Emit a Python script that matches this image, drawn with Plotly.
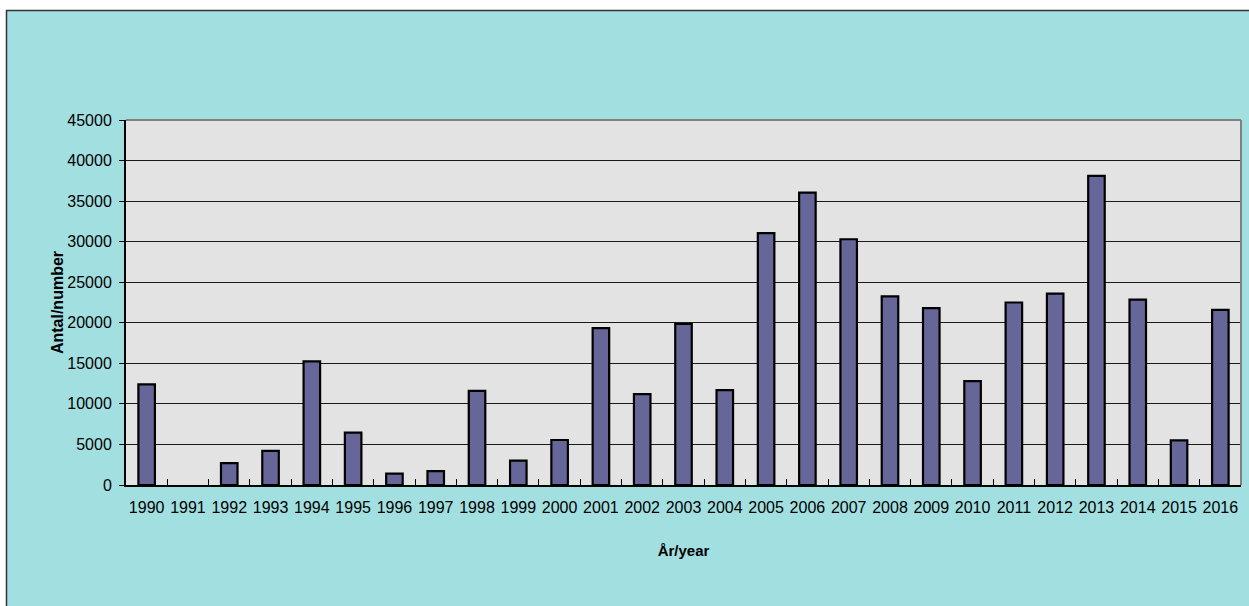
import plotly.graph_objects as go

years = [str(y) for y in range(1990, 2017)]
counts = [12400, 0, 2700, 4200, 15250, 6450, 1400, 1700, 11600, 3000,
          5550, 19350, 11200, 19850, 11700, 31050, 36050, 30300, 23250, 21800,
          12800, 22500, 23600, 38100, 22850, 5500, 21600]
y_ticks = list(range(0, 45001, 5000))

W, H = 1249, 606
L, R, T, B = 126, 1241, 120, 485  # plot area in px

def px_x(p):
    return (p - L) / (R - L)

def px_y(p):
    return (B - p) / (B - T)

TEAL = "#A2DFE0"
fig = go.Figure()
fig.add_trace(go.Bar(
    x=years, y=counts, width=0.40,
    marker=dict(color="#666699",
                line=dict(color="#000000", width=[2.2 if v > 0 else 0 for v in counts])),
    hoverinfo="x+y",
))

shapes = [
    # white strips outside the chart frame
    dict(type="rect", xref="paper", yref="paper", x0=px_x(-5), x1=px_x(W + 5),
         y0=px_y(10), y1=px_y(-5), fillcolor="white", line=dict(width=0), layer="above"),
    dict(type="rect", xref="paper", yref="paper", x0=px_x(-5), x1=px_x(6),
         y0=px_y(H + 5), y1=px_y(-5), fillcolor="white", line=dict(width=0), layer="above"),
    # chart frame border
    dict(type="line", xref="paper", yref="paper", x0=px_x(6), x1=px_x(W + 5),
         y0=px_y(10.5), y1=px_y(10.5), line=dict(color="#333333", width=1.5), layer="above"),
    dict(type="line", xref="paper", yref="paper", x0=px_x(6.5), x1=px_x(6.5),
         y0=px_y(10), y1=px_y(H + 5), line=dict(color="#333333", width=1.5), layer="above"),
    # plot area top/right border (gray)
    dict(type="line", xref="paper", yref="paper", x0=0, x1=1, y0=1, y1=1,
         line=dict(color="#808080", width=2), layer="above"),
    dict(type="line", xref="paper", yref="paper", x0=1, x1=1, y0=0, y1=1,
         line=dict(color="#808080", width=2), layer="above"),
]

fig.update_layout(
    width=W, height=H,
    margin=dict(l=L, r=W - R, t=T, b=H - B),
    paper_bgcolor=TEAL,
    plot_bgcolor="#E3E3E3",
    showlegend=False,
    font=dict(family="Liberation Sans, Arial, sans-serif", color="#000000"),
    shapes=shapes,
    xaxis=dict(
        type="category", tickson="boundaries", ticks="inside", ticklen=6,
        tickcolor="#000000", tickwidth=1, tickangle=0,
        showline=True, linecolor="#000000", linewidth=2,
        showgrid=False, tickfont=dict(size=16),
        ticklabelstandoff=7,
        title=dict(text="<b>År/year</b>", font=dict(size=15), standoff=30),
    ),
    yaxis=dict(
        range=[0, 45000], tickvals=y_ticks, ticktext=[str(v) for v in y_ticks],
        ticks="outside", ticklen=5, tickcolor="#000000",
        showline=True, linecolor="#000000", linewidth=2,
        showgrid=True, gridcolor="#1a1a1a", gridwidth=1.2,
        zeroline=False, tickfont=dict(size=16), ticklabelstandoff=4,
        title=dict(text="<b>Antal/number</b>", font=dict(size=16), standoff=0),
    ),
)

fig.write_html("out.html",
               config={"displayModeBar": False},
               post_script="document.body.style.margin='0';document.body.style.overflow='hidden';")
